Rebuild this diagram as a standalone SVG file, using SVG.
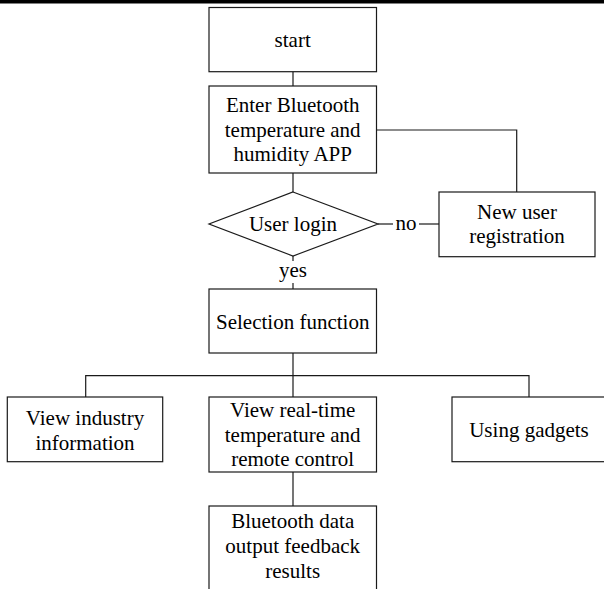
<svg xmlns="http://www.w3.org/2000/svg" width="604" height="589" viewBox="0 0 604 589">
  <style>
    .box { fill: #ffffff; stroke: #1a1a1a; stroke-width: 1.2; }
    .link { fill: none; stroke: #1a1a1a; stroke-width: 1.2; }
    text { font-family: "Liberation Serif", "Times New Roman", serif; font-size: 21px; fill: #000000; text-anchor: middle; }
  </style>
  <rect width="604" height="589" fill="#ffffff"/>
  <!-- rule across the top -->
  <rect x="0" y="0" width="604" height="3.5" fill="#000000"/>

  <g id="connectors">
    <line class="link" x1="293" y1="71.7" x2="293" y2="86"/>
    <line class="link" x1="293" y1="173" x2="293" y2="192"/>
    <polyline class="link" points="376.5,130 516.7,130 516.7,192"/>
    <line class="link" x1="378" y1="224" x2="393" y2="224"/>
    <line class="link" x1="419" y1="224" x2="439" y2="224"/>
    <line class="link" x1="293" y1="256" x2="293" y2="261"/>
    <line class="link" x1="293" y1="283" x2="293" y2="289"/>
    <line class="link" x1="293" y1="353" x2="293" y2="397"/>
    <polyline class="link" points="85.7,397 85.7,375.7 529,375.7 529,397"/>
    <line class="link" x1="293" y1="472" x2="293" y2="506"/>
    <text x="406" y="230">no</text>
    <text x="293" y="277">yes</text>
  </g>

  <g id="start">
    <rect class="box" x="209" y="7.5" width="167.5" height="64.2"/>
    <text x="292.7" y="46.5">start</text>
  </g>

  <g id="enter-app">
    <rect class="box" x="209" y="86" width="167.5" height="87"/>
    <text x="292.7" y="112">Enter Bluetooth</text>
    <text x="292.7" y="136.5">temperature and</text>
    <text x="292.7" y="161">humidity APP</text>
  </g>

  <g id="user-login">
    <polygon class="box" points="293,192 378,224 293,256 209,224"/>
    <text x="293" y="231">User login</text>
  </g>

  <g id="new-user">
    <rect class="box" x="439" y="192" width="156" height="64.7"/>
    <text x="517" y="218.5">New user</text>
    <text x="517" y="243">registration</text>
  </g>

  <g id="selection">
    <rect class="box" x="209" y="289" width="167.5" height="64"/>
    <text x="292.7" y="328.5">Selection function</text>
  </g>

  <g id="industry-info">
    <rect class="box" x="7.3" y="397" width="155.4" height="64.7"/>
    <text x="85" y="425">View industry</text>
    <text x="85" y="450">information</text>
  </g>

  <g id="realtime">
    <rect class="box" x="209" y="397" width="167.5" height="75"/>
    <text x="292.7" y="417">View real-time</text>
    <text x="292.7" y="441.5">temperature and</text>
    <text x="292.7" y="466">remote control</text>
  </g>

  <g id="gadgets">
    <rect class="box" x="452" y="397" width="156" height="64.7"/>
    <text x="529" y="436.5">Using gadgets</text>
  </g>

  <g id="bluetooth-output">
    <rect class="box" x="209" y="506" width="167.5" height="100"/>
    <text x="292.7" y="528">Bluetooth data</text>
    <text x="292.7" y="553">output feedback</text>
    <text x="292.7" y="578">results</text>
  </g>
</svg>
